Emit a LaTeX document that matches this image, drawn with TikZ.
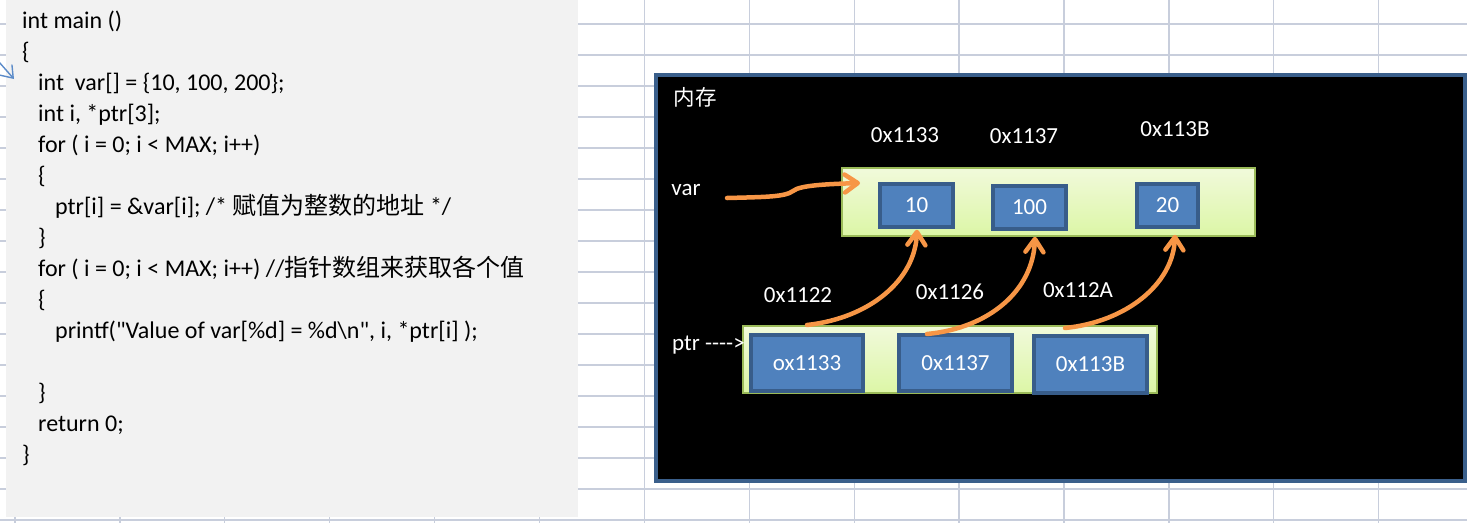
\documentclass[tikz,border=0pt]{standalone}
\usepackage{fontspec}
\setmainfont{Carlito}[Ligatures=TeXOff]
\newfontfamily\cjk{Noto Sans CJK SC}
\usetikzlibrary{arrows.meta,calc}
\definecolor{gridc}{HTML}{C8CEDC}
\definecolor{panelc}{HTML}{F2F2F2}
\definecolor{framec}{HTML}{3A5F8B}
\definecolor{cellfill}{HTML}{4F81BD}
\definecolor{celldraw}{HTML}{385D8A}
\definecolor{greentop}{HTML}{F1FADB}
\definecolor{greenbot}{HTML}{DCF6A6}
\definecolor{greendraw}{HTML}{9BBB59}
\definecolor{orangec}{HTML}{F79646}
\definecolor{penblue}{HTML}{5B8BC9}
\tikzset{
  gridline/.style={draw=gridc, line width=1.3pt},
  codeline/.style={anchor=base west, inner sep=0pt, text=black, font=\fontsize{24}{28}\selectfont},
  lbl/.style={inner sep=0pt, text=white, font=\fontsize{23}{27}\selectfont},
  arr/.style={draw=greendraw, line width=2pt, top color=greentop, bottom color=greenbot, rectangle, inner sep=0pt},
  cell/.style={draw=celldraw, fill=cellfill, line width=3.5pt, rectangle, inner sep=0pt, text=white, font=\fontsize{23}{27}\selectfont},
  oarrow/.style={draw=orangec, line width=4.5pt, line cap=round,
    -{Straight Barb[length=13pt,width=18pt,round]}},
}
\begin{document}
\begin{tikzpicture}[x=1pt,y=-1pt]
\useasboundingbox (0,0) rectangle (1467,523);
\fill[white] (0,0) rectangle (1467,523);
% spreadsheet grid
\foreach \i in {0,...,13} \draw[gridline] ({15+104.9*\i},0) -- ({15+104.9*\i},523);
\foreach \j in {0,...,16} \draw[gridline] (0,{24+31*\j}) -- (1467,{24+31*\j});
% code panel
\fill[panelc] (6,0) rectangle (578,517);
\node[codeline] (c1) at (22,28) {int main ()};
\node[codeline] (c2) at (22,59) {\{};
\node[codeline] (c3) at (38,90) {int\ \ var[] = \{10, 100, 200\};};
\node[codeline] (c4) at (38,121) {int i, *ptr[3];};
\node[codeline] (c5) at (38,152) {for ( i = 0; i < MAX; i++)};
\node[codeline] (c6) at (38,183) {\{};
\node[codeline] (c7) at (55,214) {ptr[i] = \&var[i]; /* {\cjk 赋值为整数的地址} */};
\node[codeline] (c8) at (38,245) {\}};
\node[codeline] (c9) at (38,276) {for ( i = 0; i < MAX; i++) //{\cjk 指针数组来获取各个值}};
\node[codeline] (c10) at (38,307) {\{};
\node[codeline] (c11) at (55,338) {printf("Value of var[\%d] = \%d\textbackslash n", i, *ptr[i] );};
\node[codeline] (c12) at (38,400) {\}};
\node[codeline] (c13) at (38,431) {return 0;};
\node[codeline] (c14) at (22,462) {\}};
% pen stroke at left edge
\coordinate (pa) at (-1,62);
\coordinate (pb) at (14,79);
\draw[penblue, line width=1.4pt, -{Straight Barb[length=11pt,width=16pt]}] (pa) -- (pb);
% memory frame
\draw[draw=framec, fill=black, line width=3.5pt] (655.8,74.8) rectangle (1465.2,481.2);
\node[lbl, font=\cjk\fontsize{21.5}{26}\selectfont] (mem) at (695,97) {内存};
% var array
\node[arr, minimum width=413pt, minimum height=68pt] (varrect) at (1048.5,202) {};
\node[cell, minimum width=73pt, minimum height=43pt] (v1) at (916.5,205.5) {10};
\node[cell, minimum width=73pt, minimum height=43pt] (v2) at (1029.5,207.5) {100};
\node[cell, minimum width=61pt, minimum height=43pt] (v3) at (1167.5,205.5) {20};
\node[lbl] (a1) at (905,135) {0x1133};
\node[lbl] (a2) at (1024,136) {0x1137};
\node[lbl] (a3) at (1175,129) {0x113B};
\node[lbl] (varlbl) at (686,190) {var};
% ptr array
\node[arr, minimum width=414pt, minimum height=67pt] (ptrrect) at (950,359.5) {};
\node[cell, minimum width=112pt, minimum height=56pt] (p1) at (807,363) {ox1133};
\node[cell, minimum width=113pt, minimum height=56pt] (p2) at (955.5,363) {0x1137};
\node[cell, minimum width=113pt, minimum height=57pt] (p3) at (1090.5,364.5) {0x113B};
\node[lbl, anchor=base west] (ptrlbl) at (672,350) {ptr ---->};
\node[lbl] (b1) at (798,295) {0x1122};
\node[lbl] (b2) at (950,292) {0x1126};
\node[lbl] (b3) at (1078,290) {0x112A};
% arrows
\coordinate (vs) at (727,198);
\coordinate (vt) at ($(varrect.west)+(19,-19)$);
\draw[oarrow] (vs) .. controls (765,197) and (785,197) .. (793,191)
  .. controls (800,185) and (830,184) .. (vt);
\coordinate (s1) at (807,325);
\coordinate (s2) at (927,334);
\coordinate (s3) at (1065,328);
\coordinate (t1) at ($(v1.south)+(0.5,1)$);
\coordinate (t2) at ($(v2.south)+(5.5,6)$);
\coordinate (t3) at ($(v3.south)+(7.5,6)$);
\draw[oarrow] (s1) .. controls (870,318) and (915,280) .. (t1);
\draw[oarrow] (s2) .. controls (990,328) and (1033,290) .. (t2);
\draw[oarrow] (s3) .. controls (1125,322) and (1173,285) .. (t3);
\end{tikzpicture}
\end{document}
